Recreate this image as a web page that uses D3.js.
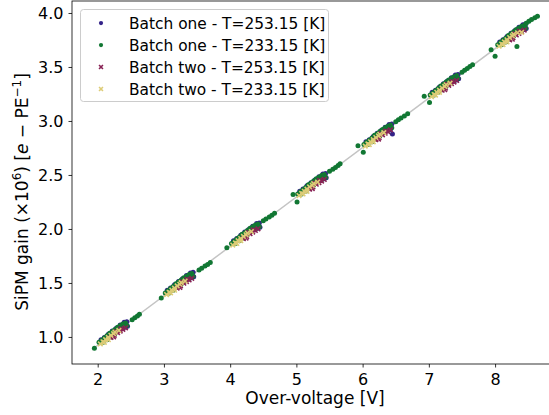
<!DOCTYPE html>
<html>
<head>
<meta charset="utf-8">
<script src="https://cdn.jsdelivr.net/npm/d3@7"></script>
<style>
  html, body { margin: 0; padding: 0; background: #fff; }
  svg { display: block; font-family: "DejaVu Sans", sans-serif; }
</style>
</head>
<body>
<svg id="chart" width="549" height="415"></svg>
<script>
// ---- Data ----
const seriesNames = [
  "Batch one - T=253.15 [K]",
  "Batch one - T=233.15 [K]",
  "Batch two - T=253.15 [K]",
  "Batch two - T=233.15 [K]"
];
const seriesColors = ["#332288", "#117733", "#882255", "#DDCC77"];
const seriesMarkers = ["circle", "circle", "x", "x"];

const batchOne253 = [
  [2.05,0.975],[2.10,0.995],[2.16,1.025],[2.22,1.055],[2.28,1.080],[2.34,1.110],[2.40,1.135],[2.44,1.140],[2.42,1.090],[2.45,1.100],[2.20,1.035],[2.30,1.070],
  [3.05,1.433],[3.10,1.453],[3.16,1.483],[3.22,1.513],[3.28,1.538],[3.34,1.568],[3.40,1.593],[3.44,1.598],[3.42,1.548],[3.45,1.558],[3.20,1.493],[3.30,1.528],
  [4.05,1.891],[4.10,1.911],[4.16,1.941],[4.22,1.971],[4.28,1.996],[4.34,2.026],[4.40,2.051],[4.44,2.056],[4.42,2.006],[4.45,2.016],[4.20,1.951],[4.30,1.986],
  [5.05,2.349],[5.10,2.369],[5.16,2.399],[5.22,2.429],[5.28,2.454],[5.34,2.484],[5.40,2.509],[5.44,2.514],[5.42,2.464],[5.45,2.474],[5.20,2.409],[5.30,2.444],
  [6.05,2.807],[6.10,2.827],[6.16,2.857],[6.22,2.887],[6.28,2.912],[6.34,2.942],[6.40,2.967],[6.44,2.972],[6.42,2.922],[6.45,2.880],[6.20,2.867],[6.30,2.902],
  [7.05,3.265],[7.10,3.285],[7.16,3.315],[7.22,3.345],[7.28,3.370],[7.34,3.400],[7.40,3.425],[7.44,3.430],[7.42,3.380],[7.45,3.390],[7.20,3.325],[7.30,3.360],
  [8.07,3.732],[8.12,3.752],[8.18,3.782],[8.24,3.812],[8.30,3.837],[8.36,3.867],[8.42,3.892],[8.46,3.897],[8.44,3.847],[8.47,3.857],[8.22,3.792],[8.32,3.827]
];
const batchOne233 = [
  [1.95,0.895],[2.02,0.950],[2.06,0.970],[2.10,0.990],[2.14,1.010],[2.18,1.035],[2.22,1.050],[2.26,1.070],[2.30,1.090],[2.34,1.105],[2.38,1.120],[2.42,1.130],[2.08,0.950],[2.14,0.975],[2.20,1.000],[2.26,1.030],[2.32,1.060],[2.38,1.080],[2.44,1.105],[2.52,1.160],[2.56,1.178],[2.60,1.195],[2.63,1.210],
  [2.96,1.360],[3.02,1.408],[3.06,1.428],[3.10,1.448],[3.14,1.468],[3.18,1.493],[3.22,1.508],[3.26,1.528],[3.30,1.548],[3.34,1.563],[3.38,1.578],[3.42,1.588],[3.08,1.408],[3.14,1.433],[3.20,1.458],[3.26,1.488],[3.32,1.518],[3.38,1.538],[3.44,1.563],[3.53,1.620],[3.57,1.637],[3.62,1.656],[3.66,1.672],[3.70,1.690],
  [3.95,1.825],[4.02,1.866],[4.06,1.886],[4.10,1.906],[4.14,1.926],[4.18,1.951],[4.22,1.966],[4.26,1.986],[4.30,2.006],[4.34,2.021],[4.38,2.036],[4.42,2.046],[4.08,1.866],[4.14,1.891],[4.20,1.916],[4.26,1.946],[4.32,1.976],[4.38,1.996],[4.44,2.021],[4.50,2.075],[4.54,2.093],[4.59,2.110],[4.63,2.128],[4.67,2.145],
  [4.95,2.318],[5.01,2.250],[5.02,2.324],[5.06,2.344],[5.10,2.364],[5.14,2.384],[5.18,2.409],[5.22,2.424],[5.26,2.444],[5.30,2.464],[5.34,2.479],[5.38,2.494],[5.42,2.504],[5.08,2.324],[5.14,2.349],[5.20,2.374],[5.26,2.404],[5.32,2.434],[5.38,2.454],[5.44,2.479],[5.50,2.535],[5.55,2.553],[5.59,2.570],[5.63,2.588],[5.66,2.603],
  [5.93,2.770],[6.01,2.710],[6.02,2.782],[6.06,2.802],[6.10,2.822],[6.14,2.842],[6.18,2.867],[6.22,2.882],[6.26,2.902],[6.30,2.922],[6.34,2.937],[6.38,2.952],[6.42,2.962],[6.08,2.782],[6.14,2.807],[6.20,2.832],[6.26,2.862],[6.32,2.892],[6.38,2.912],[6.44,2.937],[6.50,2.993],[6.54,3.011],[6.58,3.028],[6.63,3.046],[6.68,3.066],
  [6.93,3.230],[7.01,3.170],[7.02,3.240],[7.06,3.260],[7.10,3.280],[7.14,3.300],[7.18,3.325],[7.22,3.340],[7.26,3.360],[7.30,3.380],[7.34,3.395],[7.38,3.410],[7.42,3.420],[7.08,3.240],[7.14,3.265],[7.20,3.290],[7.26,3.320],[7.32,3.350],[7.38,3.370],[7.44,3.395],[7.50,3.451],[7.54,3.469],[7.58,3.486],[7.62,3.504],[7.66,3.520],
  [7.94,3.660],[8.00,3.600],[8.04,3.707],[8.08,3.727],[8.12,3.747],[8.16,3.767],[8.20,3.792],[8.24,3.807],[8.28,3.827],[8.32,3.847],[8.36,3.862],[8.40,3.877],[8.44,3.887],[8.10,3.707],[8.16,3.732],[8.22,3.757],[8.28,3.787],[8.34,3.817],[8.40,3.837],[8.46,3.862],[8.33,3.690],[8.47,3.905],[8.51,3.923],[8.55,3.940],[8.60,3.955],[8.64,3.970]
];
const batchTwo253 = [
  [2.20,0.995],[2.25,1.015],[2.30,1.040],[2.34,1.055],[2.38,1.070],[2.42,1.085],[2.28,1.050],[2.35,1.075],[2.24,1.000],
  [3.20,1.453],[3.25,1.473],[3.30,1.498],[3.34,1.513],[3.38,1.528],[3.42,1.543],[3.28,1.508],[3.35,1.533],[3.24,1.458],
  [4.20,1.911],[4.25,1.931],[4.30,1.956],[4.34,1.971],[4.38,1.986],[4.42,2.001],[4.28,1.966],[4.35,1.991],[4.24,1.916],
  [5.20,2.369],[5.25,2.389],[5.30,2.414],[5.34,2.429],[5.38,2.444],[5.42,2.459],[5.28,2.424],[5.35,2.449],[5.24,2.374],
  [6.20,2.827],[6.25,2.847],[6.30,2.872],[6.34,2.887],[6.38,2.902],[6.42,2.917],[6.28,2.882],[6.35,2.907],[6.24,2.832],
  [7.20,3.285],[7.25,3.305],[7.30,3.330],[7.34,3.345],[7.38,3.360],[7.42,3.375],[7.28,3.340],[7.35,3.365],[7.24,3.290],
  [8.22,3.752],[8.27,3.772],[8.32,3.797],[8.36,3.812],[8.40,3.827],[8.44,3.842],[8.30,3.807],[8.37,3.832],[8.26,3.757]
];
const batchTwo233 = [
  [2.04,0.935],[2.08,0.955],[2.12,0.975],[2.16,0.995],[2.20,1.015],[2.24,1.030],[2.10,0.950],[2.16,0.975],[2.26,1.045],[2.32,1.060],
  [3.04,1.393],[3.08,1.413],[3.12,1.433],[3.16,1.453],[3.20,1.473],[3.24,1.488],[3.10,1.408],[3.16,1.433],[3.26,1.503],[3.32,1.518],
  [4.04,1.851],[4.08,1.871],[4.12,1.891],[4.16,1.911],[4.20,1.931],[4.24,1.946],[4.10,1.866],[4.16,1.891],[4.26,1.961],[4.32,1.976],
  [5.04,2.309],[5.08,2.329],[5.12,2.349],[5.16,2.369],[5.20,2.389],[5.24,2.404],[5.10,2.324],[5.16,2.349],[5.26,2.419],[5.32,2.434],
  [6.04,2.767],[6.08,2.787],[6.12,2.807],[6.16,2.827],[6.20,2.847],[6.24,2.862],[6.10,2.782],[6.16,2.807],[6.26,2.877],[6.32,2.892],
  [7.04,3.225],[7.08,3.245],[7.12,3.265],[7.16,3.285],[7.20,3.305],[7.24,3.320],[7.10,3.240],[7.16,3.265],[7.26,3.335],[7.32,3.350],
  [8.06,3.692],[8.10,3.712],[8.14,3.732],[8.18,3.752],[8.22,3.772],[8.26,3.787],[8.12,3.707],[8.18,3.732],[8.28,3.802],[8.34,3.817],[8.40,3.820]
];
const fitLine = [[1.95, 0.900], [8.65, 3.968]];

const xTicks = [2, 3, 4, 5, 6, 7, 8];
const yTicks = [1.0, 1.5, 2.0, 2.5, 3.0, 3.5, 4.0];
const xDomain = [1.612, 8.95];
const yDomain = [0.7495, 4.111];

// ---- Layout ----
const svg = d3.select("#chart");
const mLeft = 72, mRight = 558, mTop = 1, mBottom = 364;
const x = d3.scaleLinear().domain(xDomain).range([mLeft, mRight]);
const y = d3.scaleLinear().domain(yDomain).range([mBottom, mTop]);

svg.append("clipPath").attr("id", "clip").append("rect")
  .attr("x", mLeft).attr("y", mTop).attr("width", mRight - mLeft).attr("height", mBottom - mTop);

const data = [batchOne253, batchOne233, batchTwo253, batchTwo233];

const g = svg.append("g").attr("clip-path", "url(#clip)");

// fit line
g.append("path")
  .attr("d", d3.line().x(d => x(d[0])).y(d => y(d[1]))(fitLine))
  .attr("stroke", "#c4c4c4").attr("stroke-width", 1.5).attr("fill", "none");

function drawMarker(sel, kind, color, scale) {
  const k = scale || 1;
  if (kind === "circle") {
    sel.append("circle").attr("r", 2.5 * k).attr("fill", color);
  } else {
    const s = 2.3 * k;
    sel.append("path").attr("d", `M${-s},${-s}L${s},${s}M${-s},${s}L${s},${-s}`)
      .attr("stroke", color).attr("stroke-width", 1.6).attr("fill", "none");
  }
}

data.forEach((series, i) => {
  const pts = g.append("g").selectAll("g").data(series).join("g")
    .attr("transform", d => `translate(${x(d[0])},${y(d[1])})`);
  pts.each(function() { drawMarker(d3.select(this), seriesMarkers[i], seriesColors[i]); });
});

// axes
const xAxis = d3.axisBottom(x).tickValues(xTicks).tickFormat(d3.format("d")).tickSize(3.5).tickPadding(6);
const yAxis = d3.axisLeft(y).tickValues(yTicks).tickFormat(d3.format(".1f")).tickSize(3.5).tickPadding(5);

const gx = svg.append("g").attr("transform", `translate(0,${mBottom})`).call(xAxis);
const gy = svg.append("g").attr("transform", `translate(${mLeft},0)`).call(yAxis);
[gx, gy].forEach(a => {
  a.select(".domain").remove();
  a.selectAll(".tick line").attr("stroke", "#000").attr("stroke-width", 0.8);
  a.selectAll(".tick text").attr("font-size", 16).attr("fill", "#000")
    .attr("font-family", "DejaVu Sans, sans-serif");
});

// spines
svg.append("rect").attr("x", mLeft).attr("y", mTop).attr("width", mRight - mLeft).attr("height", mBottom - mTop)
  .attr("fill", "none").attr("stroke", "#000").attr("stroke-width", 0.8);

// axis labels
svg.append("text").attr("x", 315).attr("y", 404).attr("text-anchor", "middle")
  .attr("font-size", 17).text("Over-voltage [V]");

const yl = svg.append("text").attr("transform", `translate(28,192) rotate(-90)`)
  .attr("text-anchor", "middle").attr("font-size", 17);
yl.append("tspan").text("SiPM gain (×10");
yl.append("tspan").attr("baseline-shift", "super").attr("font-size", 12).text("6");
yl.append("tspan").text(") [");
yl.append("tspan").attr("font-style", "italic").text("e");
yl.append("tspan").text(" − PE");
yl.append("tspan").attr("baseline-shift", "super").attr("font-size", 12).text("−1");
yl.append("tspan").text("]");

// legend
const lg = svg.append("g");
lg.append("rect").attr("x", 80.5).attr("y", 9.5).attr("width", 248).attr("height", 92).attr("rx", 3)
  .attr("fill", "#fff").attr("fill-opacity", 0.8).attr("stroke", "#cccccc").attr("stroke-width", 1);
seriesNames.forEach((name, i) => {
  const ry = 23 + i * 22;
  const m = lg.append("g").attr("transform", `translate(101,${ry})`);
  drawMarker(m, seriesMarkers[i], seriesColors[i], 0.85);
  lg.append("text").attr("x", 129).attr("y", ry + 5.6).attr("font-size", 15.4).text(name);
});
</script>
</body>
</html>
